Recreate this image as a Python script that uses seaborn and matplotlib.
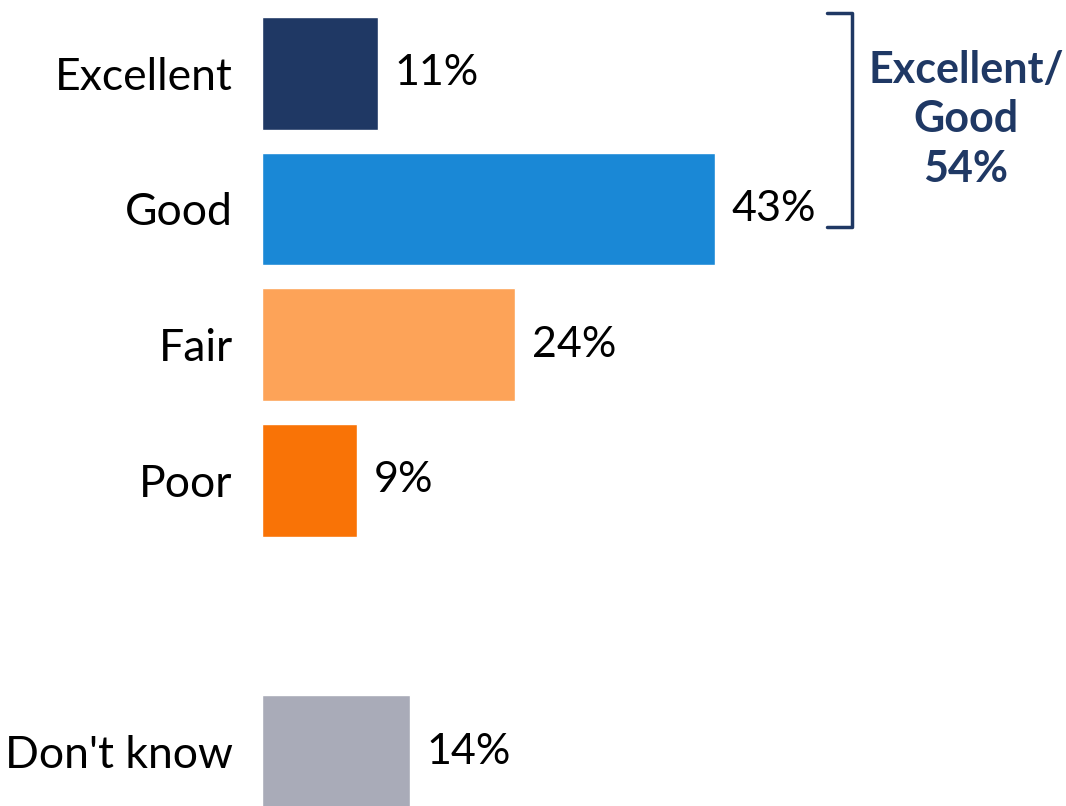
import matplotlib
matplotlib.use("Agg")
import matplotlib.pyplot as plt
import seaborn as sns
import pandas as pd

categories = ["Excellent", "Good", "Fair", "Poor", "Don't know"]
values = [11, 43, 24, 9, 14]
colors = ["#1F3864", "#1A88D6", "#FDA358", "#F97306", "#A9ABB8"]
order = ["Excellent", "Good", "Fair", "Poor", " ", "Don't know"]
bracket_text = "Excellent/\nGood\n54%"

sns.set_theme(style="white")
plt.rcParams["font.family"] = ["Lato", "DejaVu Sans"]

df = pd.DataFrame({"category": categories, "value": values})

fig = plt.figure(figsize=(10.66, 8.06), dpi=100)
ax = fig.add_axes([262 / 1066, 0, 1 - 262 / 1066, 1])

sns.barplot(data=df, x="value", y="category", hue="category", order=order,
            hue_order=categories, palette=dict(zip(categories, colors)),
            orient="h", width=0.83, legend=False, ax=ax, saturation=1)

for c in ax.containers:
    ax.bar_label(c, fmt="%d%%", padding=12, fontsize=31, color="black")

ax.set_xlim(0, 76.3)
ax.set_ylim(5.40, -0.54)
ax.set_xlabel("")
ax.set_ylabel("")
ax.set_xticks([])
ax.tick_params(axis="y", length=0, pad=21, labelsize=32, labelcolor="black")
for s in ax.spines.values():
    s.set_visible(False)

# bracket for Excellent + Good
bx, tx = 56.0, 53.6
ax.plot([tx, bx, bx, tx], [-0.446, -0.446, 1.131, 1.131], color="#1F3864",
        lw=2.5, solid_joinstyle="round", solid_capstyle="round", clip_on=False)
ax.text(66.8, 0.34, bracket_text, ha="center", va="center", fontsize=31,
        fontweight="bold", color="#1F3864", linespacing=1.3)

fig.savefig("out.png", dpi=100)
